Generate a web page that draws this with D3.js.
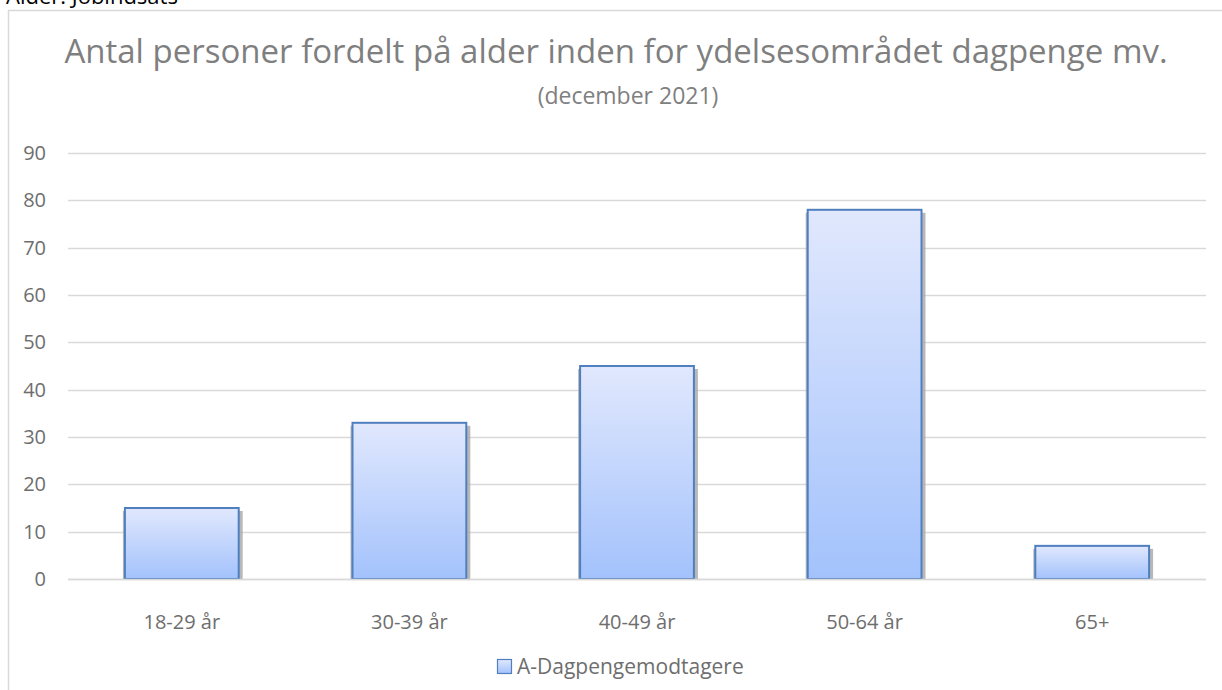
<!DOCTYPE html>
<meta charset="utf-8">
<script src="https://d3js.org/d3.v7.min.js"></script>
<style>
  body { margin: 0; background: #fff; }
  text { font-family: "Open Sans", "Noto Sans", sans-serif; }
</style>
<svg id="chart" width="1222" height="690"></svg>
<script>

  // data
  var categories = ["18-29 år", "30-39 år", "40-49 år", "50-64 år", "65+"]
  var values = [15, 33, 45, 78, 7]
  var yTicks = [0, 10, 20, 30, 40, 50, 60, 70, 80, 90]
  var seriesName = "A-Dagpengemodtagere"
  var titleText = "Antal personer fordelt på alder inden for ydelsesområdet dagpenge mv."
  var subtitleText = "(december 2021)"

  const svg = d3.select("#chart")

  // gradient for the bars
  const defs = svg.append("defs")
  const grad = defs.append("linearGradient")
    .attr("id", "barGrad")
    .attr("x1", 0).attr("y1", 0).attr("x2", 0).attr("y2", 1)
  grad.append("stop").attr("offset", "0%").attr("stop-color", "#e1e8fd")
  grad.append("stop").attr("offset", "100%").attr("stop-color", "#a3c2fc")

  // heading above the chart frame (cut at the top edge, as in the source)
  svg.append("text")
    .attr("x", 6)
    .attr("y", 4)
    .style("font-size", "22px")
    .style("fill", "#000")
    .text("Alder. Jobindsats")

  // chart frame (left + top edges visible)
  svg.append("path")
    .attr("d", "M8.5,690 L8.5,10.5 L1222,10.5")
    .attr("fill", "none")
    .attr("stroke", "#d9d9d9")
    .attr("stroke-width", 1.5)

  const x = d3.scaleBand()
    .domain(categories)
    .range([68, 1206])
    .paddingInner(0.5)
    .paddingOuter(0.25)

  const y = d3.scaleLinear()
    .domain([0, 90])
    .range([579, 153])

  // gridlines
  svg.append("g")
    .selectAll("line")
    .data(yTicks)
    .join("line")
      .attr("x1", 68)
      .attr("x2", 1206)
      .attr("y1", d => Math.round(y(d)) + 0.5)
      .attr("y2", d => Math.round(y(d)) + 0.5)
      .attr("stroke", "#d9d9d9")
      .attr("stroke-width", 1.5)

  // y labels
  svg.append("g")
    .selectAll("text")
    .data(yTicks)
    .join("text")
      .attr("x", 46)
      .attr("y", d => y(d) + 7)
      .attr("text-anchor", "end")
      .style("font-size", "20px")
      .style("fill", "#6e6e6e")
      .text(d => d)

  // shadows
  svg.append("g")
    .selectAll("rect")
    .data(values)
    .join("rect")
      .attr("x", (d, i) => x(categories[i]) - 2)
      .attr("y", d => y(d) + 3)
      .attr("width", x.bandwidth() + 6)
      .attr("height", d => y(0) - y(d) - 3)
      .attr("fill", "#a6a6a6")
      .attr("opacity", 0.8)

  // bars
  svg.append("g")
    .selectAll("rect")
    .data(values)
    .join("rect")
      .attr("x", (d, i) => x(categories[i]))
      .attr("y", d => y(d))
      .attr("width", x.bandwidth())
      .attr("height", d => y(0) - y(d))
      .attr("fill", "url(#barGrad)")
      .attr("stroke", "#4f7fbf")
      .attr("stroke-width", 2)

  // redraw baseline over shadows
  svg.append("line")
    .attr("x1", 68).attr("x2", 1206)
    .attr("y1", Math.round(y(0)) + 0.5).attr("y2", Math.round(y(0)) + 0.5)
    .attr("stroke", "#d9d9d9")
    .attr("stroke-width", 1.5)

  // x labels
  svg.append("g")
    .selectAll("text")
    .data(categories)
    .join("text")
      .attr("x", d => x(d) + x.bandwidth() / 2)
      .attr("y", 629)
      .attr("text-anchor", "middle")
      .style("font-size", "20px")
      .style("fill", "#6e6e6e")
      .text(d => d)

  // title
  svg.append("text")
    .attr("x", 616)
    .attr("y", 63)
    .attr("text-anchor", "middle")
    .style("font-size", "33px")
    .style("fill", "#7f7f7f")
    .text(titleText)

  svg.append("text")
    .attr("x", 628)
    .attr("y", 104)
    .attr("text-anchor", "middle")
    .style("font-size", "23px")
    .style("fill", "#7f7f7f")
    .text(subtitleText)

  // legend
  const legend = svg.append("g").attr("transform", "translate(497,659)")
  legend.append("rect")
    .attr("x", 0.5).attr("y", 0.5)
    .attr("width", 14).attr("height", 14)
    .attr("fill", "url(#barGrad)")
    .attr("stroke", "#4f7fbf")
    .attr("stroke-width", 1.2)
  legend.append("text")
    .attr("x", 20)
    .attr("y", 15)
    .style("font-size", "21px")
    .style("fill", "#6e6e6e")
    .text(seriesName)

</script>
